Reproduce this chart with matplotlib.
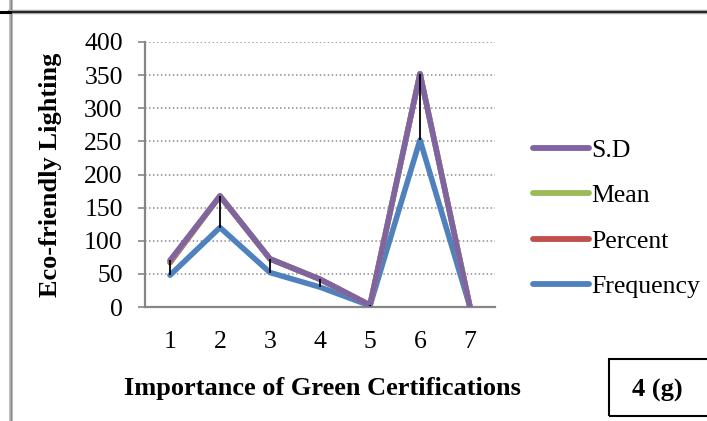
import numpy as np
import matplotlib

matplotlib.use("Agg")
import matplotlib.pyplot as plt
from matplotlib.lines import Line2D
from matplotlib.patches import Rectangle

# responses per rating level (level 6 holds the column totals)
categories = ["1", "2", "3", "4", "5", "6", "7"]
frequency = [48, 120, 52, 30, 2, 252, 0]
percent = [19.0, 47.6, 20.6, 11.9, 0.8, 100.0, 0]
mean = [2.2, 0, 0, 0, 0, 0, 0]
sd = [1.1, 0, 0, 0, 0, 0, 0]

series = [
    ("Frequency", frequency, "#4F81BD"),
    ("Percent", percent, "#C0504D"),
    ("Mean", mean, "#9BBB59"),
    ("S.D", sd, "#8064A2"),
]

FS = 18.5

plt.rcParams["font.family"] = ["Liberation Serif", "DejaVu Serif"]

fig = plt.figure(figsize=(7.07, 4.21), dpi=100)
ax = fig.add_axes([145 / 707, 1 - 307 / 421, 350 / 707, 265 / 421])

x = np.arange(1, len(categories) + 1)
# stacked line chart: each series sits on top of the previous ones
stack = np.zeros(len(categories))
handles = {}
for name, vals, color in series:
    stack = stack + np.array(vals, dtype=float)
    (h,) = ax.plot(x, stack, color=color, lw=4.0, solid_joinstyle="round",
                   solid_capstyle="round", zorder=3, label=name)
    handles[name] = h

# high-low lines between lowest and highest stacked value
low = np.array(frequency, dtype=float)
ax.vlines(x, low, stack, color="black", lw=1.3, zorder=5)

ax.set_xlim(0.5, len(categories) + 0.5)
ax.set_ylim(0, 400)
ax.set_yticks(np.arange(0, 401, 50))
ax.set_xticks(x)
ax.set_xticklabels(categories)
ax.yaxis.grid(True, color="#8c8c8c", linestyle=(0, (1, 1.6)), lw=1.1)
ax.set_axisbelow(True)
for s in ["top", "right"]:
    ax.spines[s].set_visible(False)
for s in ["left", "bottom"]:
    ax.spines[s].set_color("#868686")
    ax.spines[s].set_linewidth(1.6)
ax.tick_params(axis="y", length=5, width=1.2, color="#868686", labelsize=FS, pad=11)
ax.tick_params(axis="x", length=0, labelsize=FS, pad=17)

fig.text(51 / 707, 1 - 175 / 421, "Eco-friendly Lighting", fontsize=19,
         fontweight="bold", rotation=90, ha="center", va="center")
fig.text(322 / 707, 1 - 388 / 421, "Importance of Green Certifications",
         fontsize=19, fontweight="bold", ha="center", va="center")

order = ["S.D", "Mean", "Percent", "Frequency"]
leg = ax.legend([handles[n] for n in order], order, loc="center left",
                bbox_to_anchor=(1.079, 0.334), frameon=False, fontsize=FS,
                handlelength=2.2, handletextpad=0.08, labelspacing=0.88,
                borderaxespad=0)
for lh in leg.get_lines():
    lh.set_linewidth(4.2)

# panel tag in its own box
fig.add_artist(Rectangle((609 / 707, 1 - 416 / 421), 0.2, 57 / 421,
                         transform=fig.transFigure, fill=False,
                         edgecolor="black", lw=1.5))
fig.text(657 / 707, 1 - 390 / 421, "4 (g)", fontsize=19, fontweight="bold",
         ha="center", va="center")

# surrounding table borders
fig.add_artist(Line2D([10.5 / 707, 10.5 / 707], [0, 1], transform=fig.transFigure,
                      color="#b0b0b0", lw=2.6))
fig.add_artist(Line2D([10.5 / 707, 10.5 / 707], [0, 1], transform=fig.transFigure,
                      color="#888888", lw=0.8))
fig.add_artist(Line2D([10 / 707, 1], [1 - 12 / 421] * 2, transform=fig.transFigure,
                      color="#a8a8a8", lw=3.2))
fig.add_artist(Line2D([10 / 707, 1], [1 - 12 / 421] * 2, transform=fig.transFigure,
                      color="black", lw=1.1))
fig.add_artist(Line2D([0, 10 / 707], [1 - 12 / 421] * 2, transform=fig.transFigure,
                      color="black", lw=2.2))

fig.savefig("out.png", dpi=100)
